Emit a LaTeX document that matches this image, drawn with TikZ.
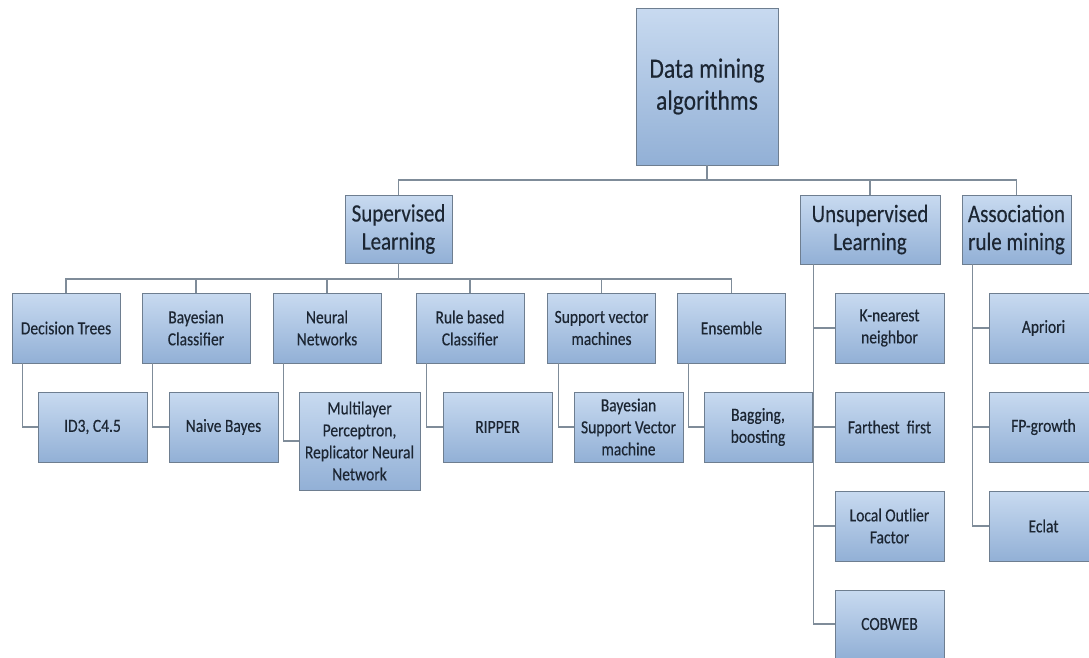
\documentclass[tikz,border=0pt]{standalone}
\usepackage{fontspec}
\setmainfont{Carlito}[FakeStretch=0.84, FakeBold=0.3]
\definecolor{boxtop}{HTML}{C8DAF0}
\definecolor{boxbot}{HTML}{92B0D6}
\definecolor{boxline}{HTML}{6E7E90}
\definecolor{conncol}{HTML}{7F8C99}
\definecolor{txt}{HTML}{1C2633}
\tikzset{
  box/.style={draw=boxline, line width=0.9pt, top color=boxtop, bottom color=boxbot,
    align=center, inner sep=2pt, text=txt},
  bigbox/.style={box, font=\fontsize{28}{32}\selectfont},
  midbox/.style={box, font=\fontsize{25}{28}\selectfont},
  smallbox/.style={box, font=\fontsize{18.5}{22}\selectfont},
  conn/.style={draw=conncol, line width=1.1pt},
}
\begin{document}
\begin{tikzpicture}[x=1pt,y=-1pt]
\useasboundingbox (0,0) rectangle (1089,657);
\clip (0,0) rectangle (1089,657);
% level 0
\node[bigbox, minimum width=142pt, minimum height=157pt] (top) at (707,86.5) {Data mining\\algorithms};
% level 1
\node[midbox, minimum width=107pt, minimum height=68pt] (sup) at (398.5,229) {Supervised\\Learning};
\node[midbox, minimum width=140pt, minimum height=69pt] (uns) at (870,229.5) {Unsupervised\\Learning};
\node[midbox, minimum width=109pt, minimum height=69pt] (asr) at (1016.5,229.5) {Association\\rule mining};
% level 2 (supervised)
\node[smallbox, minimum width=108pt, minimum height=70pt] (dt) at (66,328) {Decision Trees};
\node[smallbox, minimum width=108pt, minimum height=70pt] (bc) at (196,328) {Bayesian\\Classifier};
\node[smallbox, minimum width=108pt, minimum height=70pt] (nn) at (327,328) {Neural\\Networks};
\node[smallbox, minimum width=108pt, minimum height=70pt] (rb) at (470,328) {Rule based\\Classifier};
\node[smallbox, minimum width=108pt, minimum height=70pt] (svm) at (601.5,328) {Support vector\\machines};
\node[smallbox, minimum width=108pt, minimum height=70pt] (ens) at (731.5,328) {Ensemble};
% level 3 (supervised)
\node[smallbox, minimum width=109pt, minimum height=70pt] (id3) at (92.5,427) {ID3, C4.5};
\node[smallbox, minimum width=109pt, minimum height=70pt] (nb) at (223.5,427) {Naive Bayes};
\node[smallbox, minimum width=121pt, minimum height=98pt] (mlp) at (359.5,441) {Multilayer\\Perceptron,\\Replicator Neural\\Network};
\node[smallbox, minimum width=109pt, minimum height=70pt] (rip) at (497.5,427) {RIPPER};
\node[smallbox, minimum width=109pt, minimum height=70pt] (bsv) at (628.5,427) {Bayesian\\Support Vector\\machine};
\node[smallbox, minimum width=108pt, minimum height=70pt] (bag) at (758,427) {Bagging,\\boosting};
% unsupervised children
\node[smallbox, minimum width=109pt, minimum height=70pt] (kn) at (889.5,328) {K-nearest\\neighbor};
\node[smallbox, minimum width=109pt, minimum height=70pt] (ff) at (889.5,427) {Farthest~ first};
\node[smallbox, minimum width=109pt, minimum height=70pt] (lof) at (889.5,526) {Local Outlier\\Factor};
\node[smallbox, minimum width=109pt, minimum height=68pt] (cob) at (889.5,624) {COBWEB};
% association children
\node[smallbox, minimum width=109pt, minimum height=70pt] (ap) at (1043.5,328) {Apriori};
\node[smallbox, minimum width=109pt, minimum height=70pt] (fp) at (1043.5,427) {FP-growth};
\node[smallbox, minimum width=109pt, minimum height=70pt] (ec) at (1043.5,526) {Eclat};
% connectors
\coordinate (bus1) at (707,180);
\draw[conn] (top.south) -- (bus1);
\draw[conn] (sup.north) |- (bus1) -| (asr.north);
\draw[conn] (uns.north) -- (uns.north |- bus1);
\coordinate (bus2) at (398.5,279);
\draw[conn] (sup.south) -- (bus2);
\draw[conn] (dt.north) |- (bus2) -| (ens.north);
\foreach \n in {bc,nn,rb,svm} \draw[conn] (\n.north) -- (\n.north |- bus2);
\draw[conn] ([xshift=11pt]dt.south west) |- (id3.west);
\draw[conn] ([xshift=11pt]bc.south west) |- (nb.west);
\draw[conn] ([xshift=11pt]nn.south west) |- (mlp.west);
\draw[conn] ([xshift=11pt]rb.south west) |- (rip.west);
\draw[conn] ([xshift=11pt]svm.south west) |- (bsv.west);
\draw[conn] ([xshift=11pt]ens.south west) |- (bag.west);
\coordinate (uv) at ([xshift=14pt]uns.south west);
\draw[conn] (uv) |- (cob.west);
\foreach \n in {kn,ff,lof} \draw[conn] (\n.west) -- (\n.west -| uv);
\coordinate (av) at ([xshift=11pt]asr.south west);
\draw[conn] (av) |- (ec.west);
\foreach \n in {ap,fp} \draw[conn] (\n.west) -- (\n.west -| av);
\end{tikzpicture}
\end{document}
